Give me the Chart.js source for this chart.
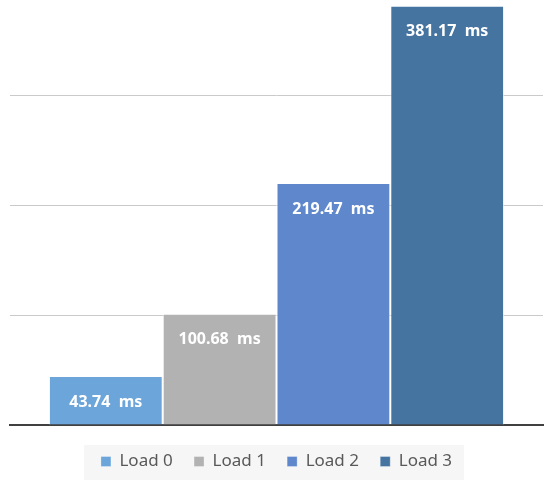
<!DOCTYPE html>
<html>
<head>
<meta charset="utf-8">
<script src="https://cdn.jsdelivr.net/npm/chart.js@4"></script>
<style>
  body { margin: 0; background: #fff; }
  #wrap { width: 550px; height: 487px; }
</style>
</head>
<body>
<div id="wrap"><canvas id="myChart" width="550" height="487"></canvas></div>
<script>
// values
var categories = ['Response time'];
var seriesNames = ['Load 0', 'Load 1', 'Load 2', 'Load 3'];
var seriesValues = [43.74, 100.68, 219.47, 381.17];
var seriesColors = ['#6ba5da', '#b2b2b2', '#5e87cc', '#4574a0'];
var yTicks = [100, 200, 300];

const ctx = document.getElementById('myChart');

// light grey box behind the legend
const legendBox = {
  id: 'legendBox',
  beforeDraw(chart) {
    var boxes = chart.legend.legendHitBoxes;
    if (!boxes || !boxes.length) return;
    var left = boxes[0].left - 17;
    var last = boxes[boxes.length - 1];
    var right = last.left + last.width + 12;
    var c = chart.ctx;
    c.save();
    c.fillStyle = '#f6f6f6';
    c.fillRect(left, chart.legend.top, right - left, chart.legend.height);
    c.restore();
  }
};

// value labels inside the top of each bar
const barLabels = {
  id: 'barLabels',
  afterDatasetsDraw(chart) {
    var c = chart.ctx;
    c.save();
    c.fillStyle = '#ffffff';
    c.font = 'bold 16px "Noto Sans"';
    c.textAlign = 'center';
    c.textBaseline = 'middle';
    chart.data.datasets.forEach(function (ds, i) {
      var bar = chart.getDatasetMeta(i).data[0];
      c.fillText(ds.data[0].toFixed(2) + '  ms', bar.x, bar.y + 25);
    });
    c.restore();
  }
};

new Chart(ctx, {
  type: 'bar',
  data: {
    labels: categories,
    datasets: seriesNames.map(function (name, i) {
      return {
        label: name,
        data: [seriesValues[i]],
        backgroundColor: seriesColors[i],
        borderColor: 'rgba(255,255,255,0.6)',
        borderWidth: { left: 1, right: 1, top: 0, bottom: 0 },
        borderSkipped: false
      };
    })
  },
  options: {
    responsive: false,
    animation: false,
    layout: { padding: { left: 10, right: 7, top: 0, bottom: 7 } },
    datasets: { bar: { categoryPercentage: 0.854, barPercentage: 1 } },
    plugins: {
      tooltip: { enabled: false },
      legend: {
        position: 'bottom',
        labels: {
          boxWidth: 10,
          boxHeight: 10,
          padding: 8,
          color: '#595959',
          font: { family: '"Noto Sans"', size: 17 },
          generateLabels: function (chart) {
            // trailing spaces widen the gap between legend items
            var items = Chart.defaults.plugins.legend.labels.generateLabels(chart);
            return items.map(function (l, i) {
              if (i < items.length - 1) l.text = l.text + '   ';
              return l;
            });
          }
        }
      }
    },
    scales: {
      x: {
        ticks: { display: false },
        grid: { display: false },
        border: { display: true, color: '#404040', width: 2 },
        afterFit: function (axis) { axis.height = axis.height + 12; }
      },
      y: {
        min: 0,
        max: 387,
        afterBuildTicks: function (axis) {
          axis.ticks = [0].concat(yTicks).map(function (v) { return { value: v }; });
        },
        ticks: { display: false },
        border: { display: false },
        grid: {
          color: function (c) { return c.tick && c.tick.value > 0 ? '#cacaca' : 'transparent'; },
          drawTicks: false
        }
      }
    }
  },
  plugins: [legendBox, barLabels]
});
</script>
</body>
</html>
